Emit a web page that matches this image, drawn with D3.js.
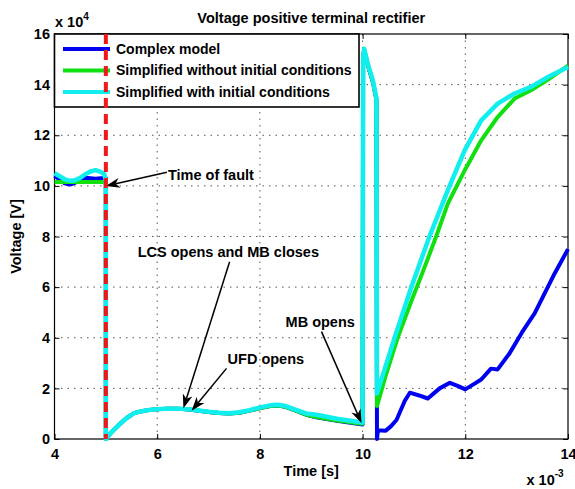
<!DOCTYPE html>
<html>
<head>
<meta charset="utf-8">
<script src="https://cdn.jsdelivr.net/npm/d3@7"></script>
<style>
  body { margin: 0; background: #fff; }
  text { font-family: "Liberation Sans", Arial, Helvetica, sans-serif; font-weight: bold; }
</style>
</head>
<body>
<div id="chart"></div>
<script>
// time in 1e-3 s, voltage in 1e4 V (axis multipliers drawn as text)
const xTicks = [4, 6, 8, 10, 12, 14];
const yTicks = [0, 2, 4, 6, 8, 10, 12, 14, 16];

const blueT = [4.0, 4.1, 4.2, 4.3, 4.4, 4.5, 4.6, 4.7, 4.8, 4.9, 5.0, 5.0, 5.02, 5.1, 5.25, 5.4, 5.55, 5.7, 5.85, 6.0, 6.2, 6.4, 6.6, 6.8, 7.0, 7.2, 7.4, 7.6, 7.8, 8.0, 8.2, 8.35, 8.5, 8.7, 8.9, 9.1, 9.3, 9.5, 9.7, 9.9, 10.0,
               10.01, 10.03, 10.1, 10.2, 10.27, 10.28, 10.3, 10.45, 10.55, 10.66, 10.82, 10.92, 11.1, 11.27, 11.5, 11.7, 11.85, 12.0, 12.15, 12.31, 12.5, 12.63, 12.86, 13.1, 13.35, 13.74, 14.0];
const blueV = [10.4, 10.25, 10.1, 10.05, 10.12, 10.25, 10.32, 10.3, 10.28, 10.3, 10.3, 0, 0.05, 0.25, 0.55, 0.82, 1.02, 1.1, 1.15, 1.18, 1.2, 1.2, 1.17, 1.12, 1.07, 1.03, 1.01, 1.04, 1.12, 1.22, 1.3, 1.32, 1.27, 1.12, 0.96, 0.86, 0.79, 0.72, 0.66, 0.6, 0.57,
               15.0, 15.38, 14.78, 14.1, 13.4, 0, 0.35, 0.33, 0.5, 0.75, 1.5, 1.83, 1.72, 1.6, 2.0, 2.22, 2.1, 1.96, 2.15, 2.35, 2.78, 2.75, 3.38, 4.2, 4.96, 6.54, 7.5];

const greenT = [4.0, 5.0, 5.0, 5.02, 5.1, 5.25, 5.4, 5.55, 5.7, 5.85, 6.0, 6.2, 6.4, 6.6, 6.8, 7.0, 7.2, 7.4, 7.6, 7.8, 8.0, 8.2, 8.35, 8.5, 8.7, 8.9, 9.1, 9.3, 9.5, 9.7, 9.9, 10.0,
                10.01, 10.03, 10.1, 10.2, 10.27, 10.28, 10.45, 10.69, 10.95, 11.21, 11.45, 11.66, 11.99, 12.31, 12.63, 12.96, 13.28, 13.61, 14.0];
const greenV = [10.15, 10.15, 0, 0.05, 0.25, 0.55, 0.82, 1.02, 1.1, 1.15, 1.18, 1.2, 1.2, 1.18, 1.13, 1.07, 1.03, 1.01, 1.04, 1.12, 1.22, 1.3, 1.32, 1.27, 1.12, 0.96, 0.87, 0.8, 0.73, 0.68, 0.62, 0.6,
                15.0, 15.4, 14.8, 14.12, 13.42, 1.3, 2.5, 4.04, 5.45, 6.8, 8.1, 9.3, 10.62, 11.8, 12.72, 13.45, 13.78, 14.2, 14.75];

const cyanT = [4.0, 4.1, 4.2, 4.3, 4.4, 4.5, 4.6, 4.7, 4.8, 4.9, 4.97, 5.0, 5.0, 5.02, 5.1, 5.25, 5.4, 5.55, 5.7, 5.85, 6.0, 6.2, 6.4, 6.6, 6.8, 7.0, 7.2, 7.4, 7.6, 7.8, 8.0, 8.2, 8.35, 8.5, 8.7, 8.9, 9.1, 9.3, 9.5, 9.7, 9.9, 10.0,
               10.01, 10.03, 10.1, 10.2, 10.27, 10.28, 10.63, 10.95, 11.3, 11.66, 11.99, 12.31, 12.63, 12.96, 13.28, 13.61, 14.0];
const cyanV = [10.5, 10.38, 10.26, 10.2, 10.22, 10.32, 10.46, 10.57, 10.62, 10.55, 10.46, 10.2, 0, 0.05, 0.25, 0.55, 0.82, 1.02, 1.1, 1.15, 1.18, 1.2, 1.2, 1.18, 1.13, 1.08, 1.04, 1.02, 1.06, 1.14, 1.25, 1.33, 1.35, 1.3, 1.15, 1.01, 0.96, 0.88, 0.8, 0.74, 0.68, 0.65,
               15.0, 15.42, 14.83, 14.17, 13.45, 1.8, 4.04, 6.01, 7.99, 9.83, 11.41, 12.59, 13.25, 13.65, 13.91, 14.3, 14.7];

const seriesNames = ["Complex model", "Simplified without initial conditions", "Simplified with initial conditions"];
const seriesColors = ["#0000f0", "#10e010", "#11eeee"];

const faultTime = 5;

// [text, text t, text v, tail t, tail v, tip t, tip v]
const notes = [
  ["Time of fault", 6.21, 10.42, 6.19, 10.54, 5.0, 10.0],
  ["LCS opens and MB closes", 5.62, 7.39, 7.41, 7.0, 6.51, 1.21],
  ["UFD opens", 7.37, 3.16, 7.35, 2.79, 6.67, 1.12],
  ["MB opens", 8.5, 4.63, 9.2, 4.24, 9.98, 0.62]
];

const W = 575, H = 489;
const margin = {top: 34, right: 7, bottom: 50, left: 54.5},
      width = W - margin.left - margin.right,
      height = H - margin.top - margin.bottom;

const root = d3.select("#chart").append("svg")
               .attr("width", W)
               .attr("height", H);

const svg = root.append("g")
                .attr("transform", `translate(${margin.left},${margin.top})`);

const x = d3.scaleLinear().domain([4, 14]).range([0, width]);
const y = d3.scaleLinear().domain([0, 16]).range([height, 0]);

// grid
svg.append("g").selectAll("line")
   .data(xTicks.slice(1, -1))
   .enter().append("line")
   .attr("x1", d => x(d)).attr("x2", d => x(d))
   .attr("y1", 0).attr("y2", height)
   .attr("stroke", "#555").attr("stroke-dasharray", "1.5,5");
svg.append("g").selectAll("line")
   .data(yTicks.slice(1, -1))
   .enter().append("line")
   .attr("y1", d => y(d)).attr("y2", d => y(d))
   .attr("x1", 0).attr("x2", width)
   .attr("stroke", "#555").attr("stroke-dasharray", "1.5,5");

// axes, ticks pointing inward
const fontSize = "14.5px";
svg.append("g")
   .attr("transform", `translate(0,${height})`)
   .call(d3.axisBottom(x).tickValues(xTicks).tickSize(-5).tickPadding(9.5).tickSizeOuter(0));
svg.append("g")
   .call(d3.axisLeft(y).tickValues(yTicks).tickSize(-5).tickPadding(4.5).tickSizeOuter(0));
svg.append("g")
   .call(d3.axisTop(x).tickValues(xTicks).tickSize(-5).tickFormat("").tickSizeOuter(0));
svg.append("g")
   .attr("transform", `translate(${width},0)`)
   .call(d3.axisRight(y).tickValues(yTicks).tickSize(-5).tickFormat("").tickSizeOuter(0));
svg.selectAll(".domain").remove();
svg.selectAll(".tick text")
   .style("font-size", fontSize)
   .style("font-family", "'Liberation Sans', Arial, sans-serif")
   .style("font-weight", "bold")
   .attr("fill", "#000");

svg.append("rect")
   .attr("width", width).attr("height", height)
   .attr("fill", "none").attr("stroke", "#000").attr("stroke-width", 1.2);

// curves
const line = d3.line()
               .x(d => x(d[0]))
               .y(d => y(d[1]));

const series = [
  {t: blueT, v: blueV, w: 4},
  {t: greenT, v: greenV, w: 4},
  {t: cyanT, v: cyanV, w: 4.5}
];

series.forEach((s, i) => {
  svg.append("path")
     .datum(s.t.map((t, k) => [t, s.v[k]]))
     .attr("d", line)
     .attr("fill", "none")
     .attr("stroke", seriesColors[i])
     .attr("stroke-width", s.w)
     .attr("stroke-linejoin", "round");
});

// annotations
function arrow(x1, y1, x2, y2) {
  const a = Math.atan2(y2 - y1, x2 - x1);
  const len = 14, half = 5, back = 10;
  const c = Math.cos(a), s = Math.sin(a);
  const bx = x2 - len * c, by = y2 - len * s;
  const nx = x2 - back * c, ny = y2 - back * s;
  svg.append("line")
     .attr("x1", x1).attr("y1", y1).attr("x2", nx).attr("y2", ny)
     .attr("stroke", "#000").attr("stroke-width", 1.5);
  svg.append("path")
     .attr("d", `M${x2},${y2}L${bx - half * s},${by + half * c}L${nx},${ny}L${bx + half * s},${by - half * c}Z`)
     .attr("fill", "#000");
}

notes.forEach(n => {
  svg.append("text")
     .attr("x", x(n[1])).attr("y", y(n[2]))
     .attr("dy", "0.35em")
     .style("font-size", fontSize)
     .text(n[0]);
  arrow(x(n[3]), y(n[4]), x(n[5]), y(n[6]));
});

// legend
const lg = svg.append("g");
lg.append("rect")
  .attr("x", 0).attr("y", 0)
  .attr("width", 304.5).attr("height", 73)
  .attr("fill", "#fff").attr("stroke", "#000").attr("stroke-width", 1.6);
const li = lg.selectAll(".li")
  .data(seriesNames)
  .enter().append("g")
  .attr("transform", (d, i) => `translate(0,${15 + i * 21.5})`);
li.append("line")
  .attr("x1", 8.5).attr("x2", 55.5)
  .attr("stroke", (d, i) => seriesColors[i])
  .attr("stroke-width", 4);
li.append("text")
  .attr("x", 61.5).attr("dy", "0.35em")
  .style("font-size", "14px")
  .text(d => d);

// fault line, drawn over the legend as in the original
svg.append("line")
   .attr("x1", x(faultTime)).attr("x2", x(faultTime))
   .attr("y1", 0).attr("y2", height)
   .attr("stroke", "#f01818")
   .attr("stroke-width", 4)
   .attr("stroke-dasharray", "10,6");

// titles
root.append("text")
    .attr("x", margin.left + width / 2).attr("y", 22.5)
    .attr("text-anchor", "middle")
    .style("font-size", fontSize)
    .text("Voltage positive terminal rectifier");

root.append("text")
    .attr("x", margin.left + width / 2).attr("y", 476)
    .attr("text-anchor", "middle")
    .style("font-size", fontSize)
    .text("Time [s]");

root.append("text")
    .attr("transform", `translate(20.5,${margin.top + height / 2}) rotate(-90)`)
    .attr("text-anchor", "middle")
    .style("font-size", fontSize)
    .text("Voltage [V]");

const m1 = root.append("text").attr("x", 55).attr("y", 27).style("font-size", fontSize);
m1.append("tspan").text("x 10");
m1.append("tspan").attr("dy", -7).style("font-size", "10px").text("4");

const m2 = root.append("text").attr("x", 526.5).attr("y", 485).style("font-size", fontSize);
m2.append("tspan").text("x 10");
m2.append("tspan").attr("dy", -8).style("font-size", "10px").text("-3");
</script>
</body>
</html>
